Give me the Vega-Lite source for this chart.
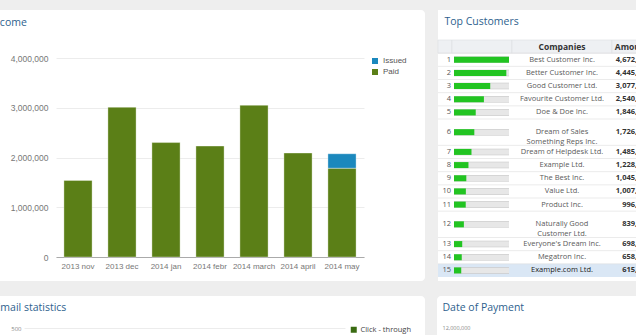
{
  "$schema": "https://vega.github.io/schema/vega-lite/v6.json",
  "background": "#eeeeee",
  "padding": {"left": -20, "top": 10, "right": 0, "bottom": 0},
  "config": {"view": {"stroke": null}},
  "resolve": {"scale": {"color": "independent", "fill": "independent"}, "legend": {"color": "independent", "fill": "independent"}},
  "datasets": {
    "income": [
      {"month": "2013 nov", "status": "Paid", "value": 1540000},
      {"month": "2013 dec", "status": "Paid", "value": 3010000},
      {"month": "2014 jan", "status": "Paid", "value": 2300000},
      {"month": "2014 febr", "status": "Paid", "value": 2230000},
      {"month": "2014 march", "status": "Paid", "value": 3050000},
      {"month": "2014 april", "status": "Paid", "value": 2090000},
      {"month": "2014 may", "status": "Paid", "value": 1785000},
      {"month": "2014 may", "status": "Issued", "value": 290000}
    ],
    "header": [{"rank": "h", "num": "", "bar": "", "company": "Companies", "amount": "Amount"}],
    "customers": [
      {"rank": "1", "company": "Best Customer Inc.", "amount": 4672350},
      {"rank": "2", "company": "Better Customer Inc.", "amount": 4445120},
      {"rank": "3", "company": "Good Customer Ltd.", "amount": 3077480},
      {"rank": "4", "company": "Favourite Customer Ltd.", "amount": 2540610},
      {"rank": "5", "company": "Doe & Doe Inc.", "amount": 1846230},
      {"rank": "6", "company": "Dream of Sales\nSomething Reps Inc.", "amount": 1726340},
      {"rank": "7", "company": "Dream of Helpdesk Ltd.", "amount": 1485760},
      {"rank": "8", "company": "Example Ltd.", "amount": 1228410},
      {"rank": "9", "company": "The Best Inc.", "amount": 1045980},
      {"rank": "10", "company": "Value Ltd.", "amount": 1007150},
      {"rank": "11", "company": "Product Inc.", "amount": 996320},
      {"rank": "12", "company": "Naturally Good\nCustomer Ltd.", "amount": 839070},
      {"rank": "13", "company": "Everyone's Dream Inc.", "amount": 698440},
      {"rank": "14", "company": "Megatron Inc.", "amount": 658410},
      {"rank": "15", "company": "Example.com Ltd.", "amount": 615920}
    ],
    "email": [{"series": "Click - through", "value": null}],
    "payments": [{"amount": null}]
  },
  "spacing": 15,
  "vconcat": [
    {
      "spacing": 12,
      "hconcat": [
        {
          "width": 445,
          "height": 271,
          "view": {"fill": "white", "stroke": null, "cornerRadius": 4},
          "data": {"name": "income"},
          "mark": {"type": "bar", "stroke": "#ffffff", "strokeOpacity": 0.35, "strokeWidth": 1},
          "encoding": {
            "x": {"field": "month", "type": "nominal", "sort": null,
              "scale": {"range": [76, 384], "paddingInner": 0.36, "paddingOuter": 0.18},
              "axis": {"title": null, "orient": "bottom", "offset": -24, "labelAngle": 0, "ticks": false, "domainColor": "#aaaaaa", "labelPadding": 5, "labelColor": "#777777", "labelFontSize": 8, "labelFont": "Liberation Sans", "labelOverlap": false}},
            "y": {"field": "value", "type": "quantitative", "stack": "zero",
              "scale": {"domain": [0, 4000000], "range": [247, 48], "nice": false},
              "axis": {"title": "Income", "titleAngle": 0, "titleX": -62, "titleY": 12, "titleAlign": "left", "titleBaseline": "middle", "titleFont": "Open Sans", "titleFontSize": 10.5, "titleFontWeight": "normal", "titleColor": "#2e5f8e",
                "orient": "left", "offset": -72, "values": [0, 1000000, 2000000, 3000000, 4000000], "format": ",d", "domain": false, "ticks": false, "labelPadding": 4, "labelColor": "#777777", "labelFontSize": 8.5, "labelFont": "Liberation Sans", "grid": true, "gridColor": "#ececec"}},
            "color": {"field": "status", "type": "nominal",
              "scale": {"domain": ["Issued", "Paid"], "range": ["#1b88bd", "#5b7f17"]},
              "legend": {"orient": "none", "legendX": 391, "legendY": 47, "title": null, "symbolType": "square", "symbolSize": 36, "symbolStrokeWidth": 0, "labelFontSize": 8, "labelColor": "#555555", "labelFont": "Liberation Sans", "rowPadding": 3, "labelOffset": 4, "padding": 0}},
            "order": {"field": "status", "sort": "descending"}
          }
        },
        {
          "spacing": 0,
          "bounds": "flush",
          "hconcat": [
            {
              "width": 14,
              "height": 271,
              "view": {"fill": "white", "stroke": null},
              "encoding": {"y": {"field": "rank", "type": "ordinal", "scale": {"domain": ["h","1","2","3","4","5","6","6 ","7","8","9","10","11","12","12 ","13","14","15"], "range": [30, 267], "paddingInner": 0, "paddingOuter": 0}, "axis": null}},
              "layer": [
                {"data": {"name": "header"}, "mark": {"type": "rect", "fill": "#eef0f3", "stroke": "#dcdfe3", "strokeWidth": 0.6}},
                {"data": {"name": "customers"}, "transform": [{"filter": "datum.rank === '15'"}], "mark": {"type": "rect", "fill": "#dae7f5"}},
                {"data": {"name": "customers"}, "mark": {"type": "rule", "color": "#e3e3e3", "strokeWidth": 0.7}, "encoding": {"y": {"field": "rank", "type": "ordinal", "bandPosition": 0}}},
                {"data": {"name": "customers"}, "transform": [{"filter": {"not": {"field": "rank", "oneOf": ["6", "12"]}}}], "mark": {"type": "text", "font": "Open Sans", "fontSize": 7.5, "color": "#555555", "align": "right", "dx": 6},
                  "encoding": {"text": {"field": "rank", "type": "nominal"}}},
                {"data": {"name": "customers"}, "transform": [{"filter": {"field": "rank", "oneOf": ["6", "12"]}}], "mark": {"type": "text", "font": "Open Sans", "fontSize": 7.5, "color": "#555555", "align": "right", "dx": 6},
                  "encoding": {"y": {"field": "rank", "type": "ordinal", "bandPosition": 1}, "text": {"field": "rank", "type": "nominal"}}}
              ]
            },
            {
              "width": 60,
              "height": 271,
              "view": {"fill": "white", "stroke": null},
              "encoding": {"y": {"field": "rank", "type": "ordinal", "scale": {"domain": ["h","1","2","3","4","5","6","6 ","7","8","9","10","11","12","12 ","13","14","15"], "range": [30, 267], "paddingInner": 0, "paddingOuter": 0}, "axis": null}},
              "layer": [
                {"data": {"name": "header"}, "mark": {"type": "rect", "fill": "#eef0f3", "stroke": "#dcdfe3", "strokeWidth": 0.6}},
                {"data": {"name": "customers"}, "transform": [{"filter": "datum.rank === '15'"}], "mark": {"type": "rect", "fill": "#dae7f5"}},
                {"data": {"name": "customers"}, "mark": {"type": "rule", "color": "#e3e3e3", "strokeWidth": 0.7}, "encoding": {"y": {"field": "rank", "type": "ordinal", "bandPosition": 0}}},
                {"data": {"name": "customers"}, "transform": [{"filter": {"not": {"field": "rank", "oneOf": ["6", "12"]}}}], "mark": {"type": "rule", "color": "#c2c2c2", "strokeWidth": 6.5},
                  "encoding": {"x": {"datum": 0, "type": "quantitative", "scale": {"domain": [0, 4672350], "range": [2, 57], "nice": false}, "axis": null}, "x2": {"datum": 4672350}}},
                {"data": {"name": "customers"}, "transform": [{"filter": {"not": {"field": "rank", "oneOf": ["6", "12"]}}}], "mark": {"type": "rule", "color": "#e7e7e7", "strokeWidth": 5.5},
                  "encoding": {"x": {"datum": 0, "type": "quantitative"}, "x2": {"datum": 4672350}}},
                {"data": {"name": "customers"}, "transform": [{"filter": {"not": {"field": "rank", "oneOf": ["6", "12"]}}}], "mark": {"type": "rule", "color": "#22c422", "strokeWidth": 6},
                  "encoding": {"x": {"field": "amount", "type": "quantitative"}, "x2": {"datum": 0}}},
                {"data": {"name": "customers"}, "transform": [{"filter": {"field": "rank", "oneOf": ["6", "12"]}}], "mark": {"type": "rule", "color": "#c2c2c2", "strokeWidth": 6.5},
                  "encoding": {"y": {"field": "rank", "type": "ordinal", "bandPosition": 1}, "x": {"datum": 0, "type": "quantitative"}, "x2": {"datum": 4672350}}},
                {"data": {"name": "customers"}, "transform": [{"filter": {"field": "rank", "oneOf": ["6", "12"]}}], "mark": {"type": "rule", "color": "#e7e7e7", "strokeWidth": 5.5},
                  "encoding": {"y": {"field": "rank", "type": "ordinal", "bandPosition": 1}, "x": {"datum": 0, "type": "quantitative"}, "x2": {"datum": 4672350}}},
                {"data": {"name": "customers"}, "transform": [{"filter": {"field": "rank", "oneOf": ["6", "12"]}}], "mark": {"type": "rule", "color": "#22c422", "strokeWidth": 6},
                  "encoding": {"y": {"field": "rank", "type": "ordinal", "bandPosition": 1}, "x": {"field": "amount", "type": "quantitative"}, "x2": {"datum": 0}}}
              ]
            },
            {
              "width": 100,
              "height": 271,
              "view": {"fill": "white", "stroke": null},
              "encoding": {"y": {"field": "rank", "type": "ordinal", "scale": {"domain": ["h","1","2","3","4","5","6","6 ","7","8","9","10","11","12","12 ","13","14","15"], "range": [30, 267], "paddingInner": 0, "paddingOuter": 0}, "axis": null}},
              "layer": [
                {"data": {"name": "header"}, "mark": {"type": "rect", "fill": "#eef0f3", "stroke": "#dcdfe3", "strokeWidth": 0.6}},
                {"data": {"name": "customers"}, "transform": [{"filter": "datum.rank === '15'"}], "mark": {"type": "rect", "fill": "#dae7f5"}},
                {"data": {"name": "customers"}, "mark": {"type": "rule", "color": "#e3e3e3", "strokeWidth": 0.7}, "encoding": {"y": {"field": "rank", "type": "ordinal", "bandPosition": 0}}},
                {"data": {"name": "header"}, "mark": {"type": "text", "font": "Open Sans", "fontSize": 8.5, "fontWeight": "bold", "color": "#333333"},
                  "encoding": {"text": {"field": "company", "type": "nominal"}}},
                {"data": {"name": "customers"}, "transform": [{"filter": {"not": {"field": "rank", "oneOf": ["6", "12"]}}}], "mark": {"type": "text", "font": "Open Sans", "fontSize": 7.5},
                  "encoding": {"text": {"field": "company", "type": "nominal"}, "color": {"condition": {"test": "datum.rank === '15'", "value": "#222222"}, "value": "#5a5a5a"}}},
                {"data": {"name": "customers"}, "transform": [{"filter": {"field": "rank", "oneOf": ["6", "12"]}}], "mark": {"type": "text", "font": "Open Sans", "fontSize": 7.5, "lineBreak": "\n", "lineHeight": 9.5, "color": "#5a5a5a"},
                  "encoding": {"y": {"field": "rank", "type": "ordinal", "bandPosition": 1}, "text": {"field": "company", "type": "nominal"}}}
              ]
            },
            {
              "width": 40,
              "height": 271,
              "view": {"fill": "white", "stroke": null},
              "encoding": {"y": {"field": "rank", "type": "ordinal", "title": "Top Customers", "scale": {"domain": ["h","1","2","3","4","5","6","6 ","7","8","9","10","11","12","12 ","13","14","15"], "range": [30, 267], "paddingInner": 0, "paddingOuter": 0},
                "axis": {"labels": false, "ticks": false, "domain": false, "grid": false, "titleAngle": 0, "titleX": -168, "titleY": 11, "titleAlign": "left", "titleBaseline": "middle", "titleLimit": 500, "titleFont": "Open Sans", "titleFontSize": 10.5, "titleFontWeight": "normal", "titleColor": "#2e5f8e"}}},
              "layer": [
                {"data": {"name": "header"}, "mark": {"type": "rect", "fill": "#eef0f3", "stroke": "#dcdfe3", "strokeWidth": 0.6}},
                {"data": {"name": "customers"}, "transform": [{"filter": "datum.rank === '15'"}], "mark": {"type": "rect", "fill": "#dae7f5"}},
                {"data": {"name": "customers"}, "mark": {"type": "rule", "color": "#e3e3e3", "strokeWidth": 0.7}, "encoding": {"y": {"field": "rank", "type": "ordinal", "title": "Top Customers", "bandPosition": 0}}},
                {"data": {"name": "header"}, "mark": {"type": "text", "font": "Open Sans", "fontSize": 8.5, "fontWeight": "bold", "color": "#333333"},
                  "encoding": {"text": {"field": "amount", "type": "nominal"}}},
                {"data": {"name": "customers"}, "transform": [{"filter": {"not": {"field": "rank", "oneOf": ["6", "12"]}}}], "mark": {"type": "text", "font": "Open Sans", "fontSize": 7.5, "fontWeight": "bold", "color": "#333333", "align": "right", "dx": 18},
                  "encoding": {"text": {"field": "amount", "type": "quantitative", "format": ",d"}}},
                {"data": {"name": "customers"}, "transform": [{"filter": {"field": "rank", "oneOf": ["6", "12"]}}], "mark": {"type": "text", "font": "Open Sans", "fontSize": 7.5, "fontWeight": "bold", "color": "#333333", "align": "right", "dx": 18},
                  "encoding": {"y": {"field": "rank", "type": "ordinal", "title": "Top Customers", "bandPosition": 1}, "text": {"field": "amount", "type": "quantitative", "format": ",d"}}}
              ]
            }
          ]
        }
      ]
    },
    {
      "spacing": 12,
      "resolve": {"scale": {"fill": "independent"}, "legend": {"fill": "independent"}},
      "hconcat": [
        {
          "width": 445,
          "height": 150,
          "view": {"fill": "white", "stroke": null, "cornerRadius": 4},
          "data": {"name": "email"},
          "mark": {"type": "bar", "invalid": "filter"},
          "encoding": {
            "x": {"field": "series", "type": "nominal", "scale": {"range": [44, 365]}, "axis": null},
            "y": {"field": "value", "type": "quantitative",
              "scale": {"domain": [0, 500], "range": [140, 32], "nice": false},
              "axis": {"title": "Email statistics", "titleAngle": 0, "titleX": -30, "titleY": 11, "titleAlign": "left", "titleBaseline": "middle", "titleFont": "Open Sans", "titleFontSize": 10.5, "titleFontWeight": "normal", "titleColor": "#2e5f8e",
                "orient": "left", "offset": -44, "values": [0, 100, 200, 300, 400, 500], "domain": false, "ticks": false, "labelPadding": 3, "labelColor": "#888888", "labelFontSize": 6, "labelFont": "Open Sans", "grid": true, "gridColor": "#ececec"}},
            "fill": {"field": "series", "type": "nominal",
              "scale": {"domain": ["Click - through"], "range": ["#3a6b12"]},
              "legend": {"orient": "none", "legendX": 370, "legendY": 30, "title": null, "symbolType": "square", "symbolSize": 36, "symbolStrokeWidth": 0, "labelFontSize": 7.5, "labelColor": "#444444", "labelFont": "Open Sans", "labelOffset": 3, "padding": 0}}
          }
        },
        {
          "width": 215,
          "height": 150,
          "view": {"fill": "white", "stroke": null, "cornerRadius": 4},
          "data": {"name": "payments"},
          "mark": {"type": "bar", "invalid": "filter"},
          "encoding": {
            "y": {"field": "amount", "type": "quantitative",
              "scale": {"domain": [0, 12000000], "range": [140, 31], "nice": false},
              "axis": {"title": "Date of Payment", "titleAngle": 0, "titleX": -31, "titleY": 11, "titleAlign": "left", "titleBaseline": "middle", "titleFont": "Open Sans", "titleFontSize": 10.5, "titleFontWeight": "normal", "titleColor": "#2e5f8e",
                "orient": "left", "offset": -36, "values": [0, 2000000, 4000000, 6000000, 8000000, 10000000, 12000000], "format": ",d", "domain": false, "ticks": false, "labelPadding": 3, "labelColor": "#888888", "labelFontSize": 5.5, "labelFont": "Open Sans", "grid": false}}
          }
        }
      ]
    }
  ]
}
